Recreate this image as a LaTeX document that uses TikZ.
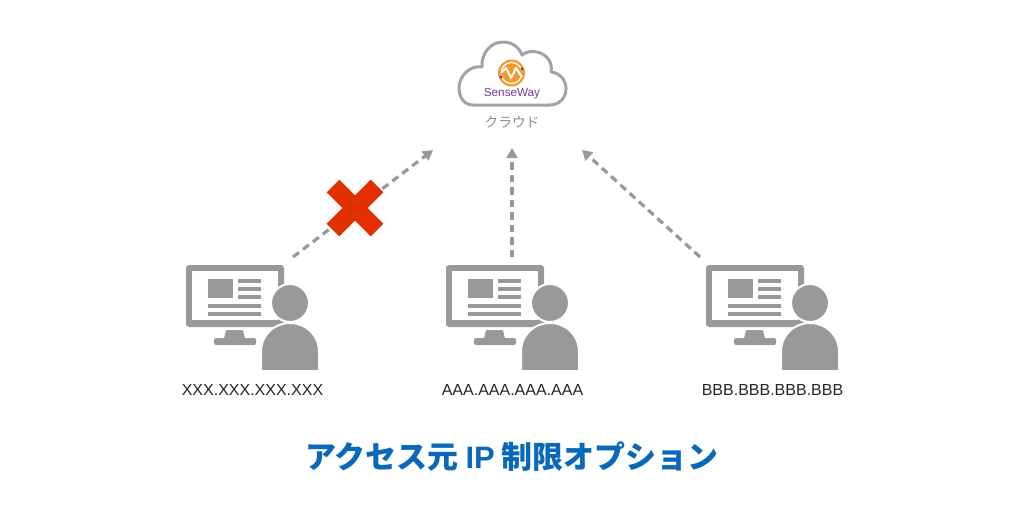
\documentclass[tikz,border=0pt]{standalone}
\usepackage{fontspec}
\usetikzlibrary{arrows.meta}
\setmainfont{Liberation Sans}
\newfontfamily\cjk{Noto Sans CJK JP}
\definecolor{icongray}{HTML}{9A9898}
\definecolor{cloudgray}{HTML}{A3A3A3}
\definecolor{titleblue}{HTML}{0A68BA}
\definecolor{crossred}{HTML}{E33000}
\definecolor{logoorange}{HTML}{F29A2E}
\definecolor{logopurple}{HTML}{7B3A96}
\begin{document}
\begin{tikzpicture}[x=1pt,y=-1pt]

		% Define styles
		\tikzstyle{icon} = [fill=icongray, draw=none]
		\tikzstyle{person} = [fill=icongray, draw=white, line width=2pt]
		\tikzstyle{address} = [text=black!85, font=\fontsize{16}{18}\selectfont, anchor=center]
		\tikzstyle{arrow} = [line width=3.2pt, icongray, dash pattern=on 7.5pt off 5pt, -{Triangle[length=10pt,width=11pt]}]

		\useasboundingbox (0,0) rectangle (1024,512);

		% Cloud
		\draw [cloudgray, line width=3pt, fill=white, line join=round]
		(473,105) .. controls (464,105) and (459,97) .. (459,88)
		.. controls (459,76) and (470,65) .. (482,67)
		.. controls (481,53) and (491,42) .. (503,42)
		.. controls (512,42) and (519,47) .. (522,55)
		.. controls (527,51) and (533,51) .. (537,52)
		.. controls (547,54) and (553,63) .. (551,72)
		.. controls (560,73) and (566,80) .. (566,89)
		.. controls (566,98) and (559,105) .. (550,105) -- cycle;
		\node (cloud) at (511.5,73) [circle, fill=logoorange, minimum size=27pt, inner sep=0pt] {};
		\draw [white, line width=1.2pt] (cloud) circle (10.5pt);
		\draw [logoorange, line width=4pt] (500,73) -- (523,73);
		\draw [white, line width=2pt, line join=round] (501,73) -- (506,68) -- (511,78) -- (516,68) -- (522,77);
		\fill [logopurple] (522,69) circle (1.6pt) (501,77) circle (1.6pt);
		\node (logo) at (512,93.5) [text=logopurple, font=\fontsize{11.7}{14}\selectfont] {SenseWay};
		\node (cloudlabel) at (512,122) [text=black!45, font=\cjk\fontsize{13.7}{15}\selectfont] {クラウド};

		% Computers with users
		\foreach \name/\dx/\ip in {x/0/XXX.XXX.XXX.XXX, a/260/AAA.AAA.AAA.AAA, b/520/BBB.BBB.BBB.BBB} {
			\begin{scope}[xshift=\dx pt]
				\fill [icon, rounded corners=3pt] (186,265) rectangle (284,327);
				\fill [white] (192,271) rectangle (278,320);
				\fill [icon] (208,279) rectangle (233,298);
				\fill [icon] (238,279) rectangle (261,282.5);
				\fill [icon] (238,287) rectangle (261,290.5);
				\fill [icon] (238,295) rectangle (261,298.5);
				\fill [icon] (208,304) rectangle (261,307.5);
				\fill [icon] (208,312) rectangle (261,315.5);
				\fill [icon, rounded corners=1pt] (226,330) -- (243,330) -- (245,339) -- (224,339) -- cycle;
				\fill [icon, rounded corners=2pt] (214,338) rectangle (256,345);
				\draw [person] (290,303) circle (19pt);
				\draw [person] (261,371) -- (261,352)
				.. controls (261,335) and (274,323) .. (290,323)
				.. controls (306,323) and (319,335) .. (319,352) -- (319,371) -- cycle;
				\fill [white] (255,370.5) rectangle (325,374);
				\node (ip\name) at (252.5,390) [address] {\ip};
			\end{scope}
		}

		% Arrows
		\coordinate (fromx) at (293,257);
		\coordinate (tox) at (433,150);
		\coordinate (froma) at (512,257);
		\coordinate (toa) at (512,148);
		\coordinate (fromb) at (700,257);
		\coordinate (tob) at (582,150);
		\draw [arrow] (fromx) -- (tox);
		\draw [arrow] (froma) -- (toa);
		\draw [arrow] (fromb) -- (tob);

		% Cross
		\draw [crossred, line width=18pt] (333,186) -- (377,230);
		\draw [crossred, line width=18pt] (377,186) -- (333,230);

		% Title
		\node (title) at (512,457) [text=titleblue, font=\cjk\bfseries\fontsize{31}{34}\selectfont] {アクセス元 {\rmfamily\bfseries IP} 制限オプション};
	\end{tikzpicture}
\end{document}
